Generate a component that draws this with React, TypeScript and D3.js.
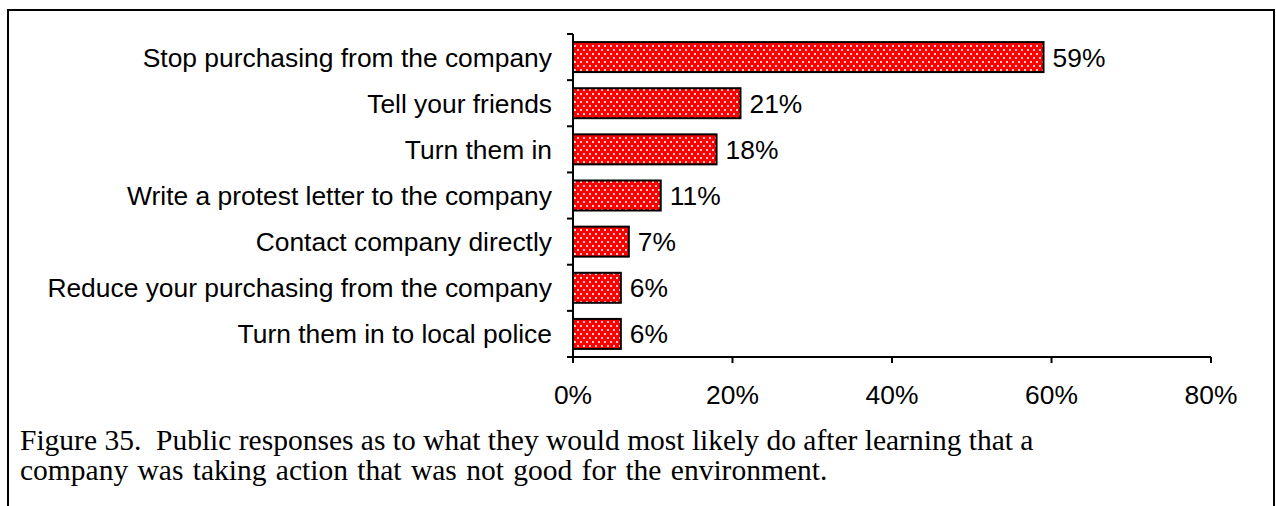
import React from "react";
import * as d3 from "d3";

const categories = [
  "Stop purchasing from the company",
  "Tell your friends",
  "Turn them in",
  "Write a protest letter to the company",
  "Contact company directly",
  "Reduce your purchasing from the company",
  "Turn them in to local police",
];
const values = [59, 21, 18, 11, 7, 6, 6];
const xTicks = [0, 20, 40, 60, 80];
const captionLines = [
  "Figure 35.  Public responses as to what they would most likely do after learning that a",
  "company was taking action that was not good for the environment.",
];

export default function App() {
  const W = 1276;
  const H = 506;
  const x0 = 573;
  const x1 = 1211;
  const yTop = 34;
  const yBot = 357;
  const x = d3.scaleLinear().domain([0, 80]).range([x0, x1]);
  const y = d3
    .scaleBand<string>()
    .domain(categories)
    .range([yTop, yBot])
    .paddingInner(0.35)
    .paddingOuter(0.175);
  const sans = "'Liberation Sans', Arial, sans-serif";
  const serif = "'Liberation Serif', 'Times New Roman', serif";
  const bandStep = (yBot - yTop) / categories.length;
  const fs = 26.4;

  return (
    <svg
      width={W}
      height={H}
      style={{ position: "absolute", left: 0, top: 0, background: "#fff" }}
    >
      <defs>
        <pattern id="dots" width={6} height={8} patternUnits="userSpaceOnUse">
          <rect width={6} height={8} fill="#ff0000" />
          <rect x={1} y={1} width={2} height={2} fill="#ffffff" opacity={0.8} />
          <rect x={4} y={5} width={2} height={2} fill="#ffffff" opacity={0.8} />
        </pattern>
      </defs>
      {/* frame */}
      <path
        d={`M8,${H} L8,10 L1274,10 L1274,${H}`}
        fill="none"
        stroke="#000"
        strokeWidth={2}
      />
      {/* bars */}
      {categories.map((c, i) => (
        <g key={c}>
          <rect
            x={x(0)}
            y={y(c)!}
            width={x(values[i]) - x(0)}
            height={y.bandwidth()}
            fill="url(#dots)"
            stroke="#000"
            strokeWidth={2}
          />
          <text
            x={x(values[i]) + 9}
            y={y(c)! + y.bandwidth() / 2 + 9.5}
            fontFamily={sans}
            fontSize={fs}
            fill="#000"
          >
            {values[i]}%
          </text>
          <text
            x={552}
            y={y(c)! + y.bandwidth() / 2 + 9.5}
            fontFamily={sans}
            fontSize={fs}
            textAnchor="end"
            fill="#000"
          >
            {c}
          </text>
        </g>
      ))}
      {/* y axis */}
      <line x1={x0} x2={x0} y1={yTop} y2={yBot} stroke="#000" strokeWidth={2} />
      {d3.range(categories.length + 1).map((i) => (
        <line
          key={i}
          x1={x0 - 6}
          x2={x0}
          y1={yTop + i * bandStep}
          y2={yTop + i * bandStep}
          stroke="#000"
          strokeWidth={2}
        />
      ))}
      {/* x axis */}
      <line x1={x0} x2={x1} y1={yBot} y2={yBot} stroke="#000" strokeWidth={2} />
      {xTicks.map((t) => (
        <g key={t}>
          <line x1={x(t)} x2={x(t)} y1={yBot} y2={yBot + 6} stroke="#000" strokeWidth={2} />
          <text
            x={x(t)}
            y={404}
            fontFamily={sans}
            fontSize={fs}
            textAnchor="middle"
            fill="#000"
          >
            {t}%
          </text>
        </g>
      ))}
      {/* caption */}
      {captionLines.map((l, i) => (
        <text
          key={i}
          x={20}
          y={450 + i * 30}
          fontFamily={serif}
          fontSize={29.5}
          fill="#000"
          style={{ whiteSpace: "pre", wordSpacing: i === 1 ? "2px" : "0px" }}
        >
          {l}
        </text>
      ))}
    </svg>
  );
}
